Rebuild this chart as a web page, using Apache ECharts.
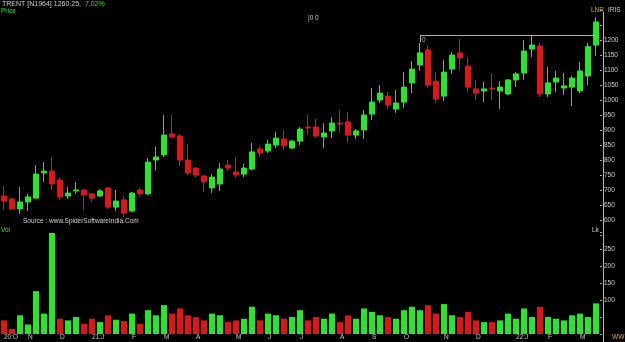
<!DOCTYPE html>
<html><head><meta charset="utf-8">
<script src="https://cdn.jsdelivr.net/npm/echarts@6/dist/echarts.min.js"></script>
<style>html,body{margin:0;padding:0;background:#000}#c{width:625px;height:342px}</style>
</head><body><div id="c"></div>
<script>
// weekly candles, Oct 2020 - Mar 2022
const opens  = [680,670,637,660,673,757,763,733,680,697,700,687,680,707,643,667,630,700,687,800,
                817,887,880,800,773,747,707,720,783,760,753,770,837,830,850,870,840,863,910,910,
                877,897,923,927,883,900,953,1000,1013,970,993,1057,1117,1167,1063,1013,1103,1157,1113,1037,
                1030,1040,1030,1020,1067,1090,1170,1180,1020,1060,1040,1043,1030,1080,1183];
const closes = [663,637,660,677,753,763,720,677,690,700,683,673,697,643,663,623,690,687,793,810,
                883,877,800,757,750,727,743,770,773,750,773,827,823,853,873,847,863,903,907,880,
                890,923,920,883,897,950,993,1023,983,990,1043,1103,1157,1050,1003,1093,1150,1140,1043,1023,
                1037,1037,1043,1067,1087,1163,1183,1020,1057,1073,1047,1073,1097,1177.6,1260.25];
const lows   = [633,633,620,630,670,727,700,667,670,687,633,660,677,637,630,610,627,677,683,765,
                810,872,780,750,743,693,690,697,763,740,743,765,810,823,840,833,837,850,883,873,
                840,873,890,857,870,870,933,990,970,957,973,1023,1097,1040,990,997,1087,1100,1027,1000,
                993,1000,970,1017,1043,1067,1143,1010,1010,1027,1017,980,1023,1050,1147];
const highs  = [713,673,710,687,783,793,810,743,710,727,703,690,703,710,700,680,693,707,807,845,
                950,950,887,853,777,750,753,790,800,810,787,857,847,867,893,900,866,910,950,937,
                923,943,967,960,903,967,1040,1050,1027,1033,1093,1130,1190,1183,1093,1133,1160,1203,1143,1067,
                1060,1090,1063,1070,1093,1200,1217,1190,1110,1097,1090,1080,1127,1190,1275];
const volumes = [40,15,55,28,126,60,297,45,40,50,30,45,35,55,42,38,60,30,70,55,
                 85,60,75,55,50,40,60,55,35,40,45,80,40,60,55,45,50,70,40,50,
                 45,60,35,55,45,75,65,55,50,45,70,80,70,85,60,88,55,50,65,40,
                 35,35,40,60,45,75,50,80,50,45,40,55,60,50,90];
// volume bar colour as seen in the picture (1 = green, 0 = red)
const volumeUp = [0,0,1,1,1,1,1,0,1,1,0,0,1,0,1,0,1,0,1,1,
                  1,0,0,0,0,0,1,1,0,0,1,1,0,1,1,0,1,1,0,0,
                  1,1,0,0,1,1,1,1,0,1,1,1,1,0,0,1,1,0,0,0,
                  1,0,1,1,1,1,1,0,1,1,1,1,1,1,1];
const tickIndex = [0,3,7,11,16,20,24,29,33,37,42,46,50,55,59,64,68,72];
const tickText  = ['20:O','N','D','21:J','F','M','A','M','J','J','A','S','O','N','D','22:J','F','M'];
const priceLabels = [600,650,700,750,800,850,900,950,1000,1050,1100,1150,1200];
const volLabels = [100,150,200,250];
const lastPrice = 1260.25, lastVolTag = 59.34, trendLevel = 1217, trendStart = 52;

const categories = [];
{ let d = new Date(Date.UTC(2020, 9, 16));
  for (let i = 0; i < opens.length; i++) { categories.push(d.toISOString().slice(0,10)); d = new Date(d.getTime() + 7*864e5); } }

const UP = '#27e827', DOWN = '#e01515';
const FONT = 'Liberation Sans';
const candleData = opens.map((o, i) => [o, closes[i], lows[i], highs[i]]);
const volData = volumes.map((v, i) => ({ value: v, itemStyle: { color: volumeUp[i] ? UP : DOWN } }));
const tickMap = {}; tickIndex.forEach((k, j) => tickMap[k] = tickText[j]);

const chart = echarts.init(document.getElementById('c'), null, { renderer: 'canvas' });
chart.setOption({
  backgroundColor: '#000',
  animation: false,
  grid: [
    { left: 0, width: 600, top: 10, height: 225 },
    { left: 0, width: 600, top: 232, height: 102 }
  ],
  xAxis: [
    { type: 'category', gridIndex: 0, data: categories, boundaryGap: true, show: false },
    { type: 'category', gridIndex: 1, data: categories, boundaryGap: true,
      axisLine: { show: false }, axisTick: { show: false },
      axisLabel: { color: '#c8c8c8', fontSize: 6.5, fontFamily: FONT, margin: 0, align: 'left',
        interval: (i) => tickMap[i] !== undefined, formatter: (v, i) => tickMap[i] || '' } }
  ],
  yAxis: [
    { type: 'value', gridIndex: 0, position: 'right', min: 550, max: 1300, interval: 50,
      splitLine: { show: false }, axisLine: { show: false },
      axisTick: { show: true, length: 2, lineStyle: { color: '#aaa' } },
      axisLabel: { color: '#d0d0d0', fontSize: 6.5, fontFamily: FONT, margin: 4,
        formatter: (v) => priceLabels.includes(v) ? String(v) : '' } },
    { type: 'value', gridIndex: 1, position: 'right', min: 0, max: 300, interval: 50,
      splitLine: { show: false }, axisLine: { show: false },
      axisTick: { show: true, length: 2, lineStyle: { color: '#aaa' } },
      axisLabel: { color: '#d0d0d0', fontSize: 6.5, fontFamily: FONT, margin: 4,
        formatter: (v) => volLabels.includes(v) ? String(v) : '' } }
  ],
  series: [
    { type: 'candlestick', xAxisIndex: 0, yAxisIndex: 0, data: candleData, barWidth: 6,
      itemStyle: { color: UP, color0: DOWN, borderColor: UP, borderColor0: DOWN, borderWidth: 1 },
      markLine: { silent: true, symbol: 'none', animation: false,
        data: [
          [ { coord: [categories[trendStart], trendLevel], lineStyle: { color: '#b0b0b0', width: 1, type: 'solid' },
              label: { show: true, position: 'insideStartBottom', formatter: '0', color: '#bbb', fontSize: 6.5, fontFamily: FONT, distance: 2 } },
            { coord: [categories[categories.length - 1], trendLevel] } ],
          [ { coord: [categories[trendStart], trendLevel], lineStyle: { color: '#b0b0b0', width: 1, type: 'solid' }, label: { show: false } },
            { coord: [categories[trendStart], 1192] } ],
          { yAxis: lastPrice, lineStyle: { opacity: 0 },
            label: { show: true, position: 'end', distance: 2, formatter: '1260.25', color: '#000',
              backgroundColor: '#d8d8d8', fontSize: 6.5, fontFamily: FONT, padding: [1, 1, 1, 1] } }
        ] } },
    { type: 'bar', xAxisIndex: 1, yAxisIndex: 1, data: volData, barWidth: 6,
      markLine: { silent: true, symbol: 'none', animation: false,
        data: [ { yAxis: lastVolTag, lineStyle: { opacity: 0 },
          label: { show: true, position: 'end', distance: 2, formatter: '59.34', color: '#000',
            backgroundColor: '#d8d8d8', fontSize: 6.5, fontFamily: FONT, padding: [1, 2, 1, 2] } } ] } }
  ],
  graphic: [
    { type: 'line', shape: { x1: 603.5, y1: 12, x2: 603.5, y2: 342 }, style: { stroke: '#b8b8b8', lineWidth: 1 }, silent: true },
    { type: 'text', left: 2, top: 1, style: { text: '{w|TRENT [N1964] 1260.25,  }{g|7.02%}', font: '7px ' + FONT,
        rich: { w: { fill: '#d0d0d0', font: '7px ' + FONT }, g: { fill: '#27e827', font: '7px ' + FONT } } } },
    { type: 'text', left: 1, top: 8, style: { text: 'Price', fill: '#27e827', font: '6.5px ' + FONT } },
    { type: 'text', left: 308, top: 15, style: { text: '|0 0', fill: '#c8c8c8', font: '6.5px ' + FONT } },
    { type: 'text', left: 591, top: 7, style: { text: 'LNR', fill: '#d8a050', font: '6.5px ' + FONT } },
    { type: 'text', left: 608, top: 7, style: { text: 'IRIS', fill: '#c8c8c8', font: '6.5px ' + FONT } },
    { type: 'text', left: 23, top: 218, style: { text: 'Source : www.SpiderSoftwareIndia.Com', fill: '#d0d0d0', font: '6.5px ' + FONT } },
    { type: 'text', left: 1, top: 227, style: { text: 'Vol', fill: '#27e827', font: '6.5px ' + FONT } },
    { type: 'text', left: 592, top: 227, style: { text: 'Lk', fill: '#d0d0d0', font: '6.5px ' + FONT } },
    { type: 'text', left: 612, top: 334, style: { text: 'WW', fill: '#d8b040', font: '6.5px ' + FONT } }
  ]
});
</script></body></html>
